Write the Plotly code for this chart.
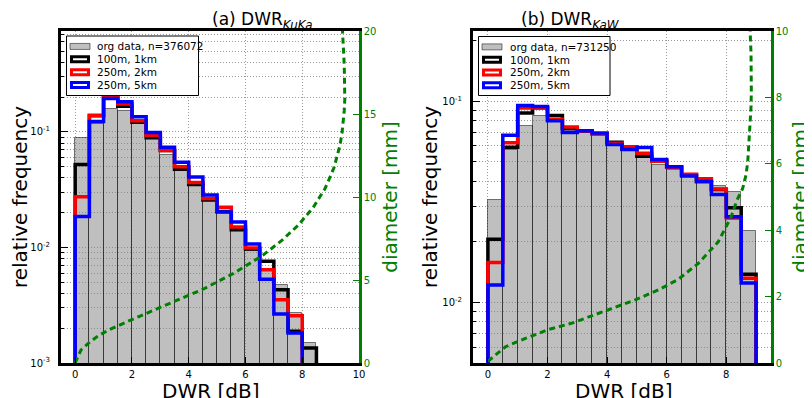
import plotly.graph_objects as go

FONT = "DejaVu Sans"
GREEN = "#008000"

# ---------------- panel (a): DWR KuKa ----------------
EDGES_A = [0.0, 0.5, 1.0, 1.5, 2.0, 2.5, 3.0, 3.5, 4.0, 4.5, 5.0, 5.5, 6.0, 6.5, 7.0, 7.5, 8.0, 8.5]
ORG_A = [0.089, 0.116, 0.158, 0.153, 0.119, 0.086, 0.0625, 0.0467, 0.034, 0.025, 0.0205,
         0.0139, 0.0094, 0.0063, 0.0047, 0.0027, 0.00148]
K100_A = [0.0522, 0.138, 0.200, 0.167, 0.121, 0.089, 0.069, 0.0474, 0.035, 0.0258, 0.0205,
          0.0142, 0.0097, 0.0076, 0.0043, 0.00188, 0.00135]
K250_2_A = [0.0275, 0.139, 0.207, 0.174, 0.125, 0.0935, 0.069, 0.050, 0.0364, 0.0265, 0.0223,
            0.015, 0.0099, 0.0064, 0.00353, 0.00257]
K250_5_A = [0.0185, 0.123, 0.194, 0.182, 0.135, 0.099, 0.0737, 0.0547, 0.0407, 0.0285, 0.0203,
            0.0166, 0.0107, 0.0053, 0.00266, 0.00182]
CURVE_DWR_A = [0, 0.2, 0.49, 0.82, 1.18, 1.55, 1.91, 2.29, 2.64, 3.03, 3.42, 3.79, 4.15, 4.52,
               5.58, 6.27, 6.62, 7.27, 7.86, 8.39, 8.8, 8.97, 9.12, 9.23, 9.33, 9.4, 9.45, 9.48,
               9.5, 9.5, 9.48, 9.46, 9.43, 9.41]
CURVE_D_A = [0, 0.78, 1.22, 1.65, 1.99, 2.29, 2.55, 2.83, 3.09, 3.35, 3.63, 3.9, 4.2, 4.46,
             5.4, 6.1, 6.5, 7.37, 8.3, 9.38, 10.5, 11.16, 11.77, 12.47, 13.13, 13.84, 14.5, 15.2,
             15.9, 17.2, 17.95, 18.65, 19.35, 20.3]
N_A = 376072

# ---------------- panel (b): DWR KaW ----------------
EDGES_B = [0.0, 0.5, 1.0, 1.5, 2.0, 2.5, 3.0, 3.5, 4.0, 4.5, 5.0, 5.5, 6.0, 6.5, 7.0, 7.5, 8.0, 8.5, 9.0]
ORG_B = [0.0322, 0.0572, 0.0758, 0.0849, 0.079, 0.0697, 0.0705, 0.0684, 0.0598, 0.0565, 0.0533,
         0.0485, 0.0458, 0.0425, 0.0391, 0.0379, 0.0354, 0.0226]
K100_B = [0.0206, 0.0591, 0.0876, 0.093, 0.085, 0.073, 0.071, 0.069, 0.0627, 0.058, 0.0533,
          0.0505, 0.047, 0.043, 0.040, 0.0365, 0.0296, 0.0138]
K250_2_B = [0.0158, 0.0622, 0.0927, 0.0927, 0.0815, 0.0745, 0.0712, 0.069, 0.062, 0.0594, 0.0552,
            0.0504, 0.047, 0.0434, 0.0412, 0.0367, 0.0263, 0.0132]
K250_5_B = [0.0122, 0.0678, 0.0953, 0.0944, 0.0800, 0.0700, 0.0715, 0.0697, 0.0610, 0.0576, 0.059,
            0.0514, 0.0473, 0.0425, 0.0399, 0.0344, 0.0267, 0.0125]
CURVE_DWR_B = [0, 0.59, 1.26, 2.04, 2.82, 3.6, 4.27, 4.94, 5.72, 6.39, 7.06, 7.73, 8.16, 8.36,
               8.55, 8.66, 8.72, 8.75, 8.78, 8.81, 8.83, 8.84, 8.84, 8.84, 8.83, 8.81, 8.8]
CURVE_D_B = [0.05, 0.49, 0.74, 1.01, 1.2, 1.45, 1.68, 1.9, 2.2, 2.52, 3.0, 3.65, 4.4, 4.91,
             5.26, 5.66, 6.06, 6.47, 6.87, 7.32, 7.72, 8.17, 8.57, 8.98, 9.33, 9.73, 10.2]
N_B = 731250

SERIES_NAMES = ["100m, 1km", "250m, 2km", "250m, 5km"]
SERIES_COLORS = ["black", "red", "blue"]
ORG_FILL = "rgba(128,128,128,0.5)"
ORG_EDGE = "rgba(0,0,0,0.5)"

YTICK_VALS = [0.001, 0.01, 0.1]
YTICK_TEXT = ["10<sup>-3</sup>", "10<sup>-2</sup>", "10<sup>-1</sup>"]
YRANGE_A = [-3.0, -0.127]
YRANGE_B = [-2.301, -0.65]
DRANGE_A = [0, 20]
DRANGE_B = [0, 10]
XLABEL = "DWR [dB]"
YLABEL = "relative frequency"
DLABEL = "diameter [mm]"

# page geometry: the html body has an 8px default margin
OFF = 8
W, H = 812 - OFF, 398 - OFF


def px(x):
    return (x - OFF) / W


def py(y):
    return 1 - (y - OFF) / H


fig = go.Figure()


def step_xy(edges, vals, base):
    xs = [edges[0]] + list(edges[:len(vals) + 1]) + [edges[len(vals)]]
    ys = [base] + list(vals) + [vals[-1]] + [base]
    return xs, ys


def add_panel(edges, org, series, curve_x, curve_y, xa, ya, ya2, base):
    fig.add_trace(go.Bar(
        x=edges[:len(org)], y=org, width=0.5, offset=0,
        marker=dict(color=ORG_FILL, line=dict(color=ORG_EDGE, width=1)),
        showlegend=False, xaxis=xa, yaxis=ya))
    for vals, nm, col in zip(series, SERIES_NAMES, SERIES_COLORS):
        xs, ys = step_xy(edges, vals, base)
        fig.add_trace(go.Scatter(x=xs, y=ys, mode="lines", name=nm,
                                 line=dict(color=col, width=3.5, shape="hv"),
                                 showlegend=False, xaxis=xa, yaxis=ya, hoverinfo="skip"))
    fig.add_trace(go.Scatter(x=curve_x, y=curve_y, mode="lines",
                             line=dict(color=GREEN, width=3, dash="6px,4px"),
                             showlegend=False, xaxis=xa, yaxis=ya2, hoverinfo="skip"))


add_panel(EDGES_A, ORG_A, [K100_A, K250_2_A, K250_5_A], CURVE_DWR_A, CURVE_D_A, "x", "y", "y2", 1e-4)
add_panel(EDGES_B, ORG_B, [K100_B, K250_2_B, K250_5_B], CURVE_DWR_B, CURVE_D_B, "x2", "y3", "y4", 1e-3)

YDOM = [py(363), py(31)]
GRIDCOL = "#9a9a9a"
GRIDDASH = "1px,2px"
grid = dict(showgrid=True, gridcolor=GRIDCOL, griddash=GRIDDASH, gridwidth=1)


def xax(domain, anchor, rng, dtick):
    return dict(domain=domain, anchor=anchor, range=rng, dtick=dtick, tick0=0, automargin=False,
                showline=True, linecolor="black", linewidth=3, mirror=True,
                ticks="inside", ticklen=6, tickcolor="black", zeroline=False,
                tickfont=dict(size=10, color="black", family=FONT),
                **grid)


def yax(anchor, rng):
    return dict(domain=YDOM, anchor=anchor, type="log", range=rng, automargin=False,
                tickvals=YTICK_VALS, ticktext=YTICK_TEXT,
                showline=True, linecolor="black", linewidth=3, mirror=False,
                ticks="inside", ticklen=7, tickcolor="black", ticklabelstandoff=6,
                tickfont=dict(size=10, color="black", family=FONT),
                minor=dict(dtick="D1", ticks="inside", ticklen=3, tickcolor="black", showgrid=True,
                           gridcolor=GRIDCOL, griddash=GRIDDASH, gridwidth=1),
                title=dict(text=YLABEL, font=dict(size=20, family=FONT, color="black"),
                           standoff=0),
                **grid)


def dax(overlay, anchor, rng, dtick):
    return dict(domain=YDOM, overlaying=overlay, anchor=anchor, side="right", range=rng,
                dtick=dtick, tick0=0, showgrid=False, zeroline=False, automargin=False,
                showline=True, linecolor=GREEN, linewidth=2.5,
                ticks="inside", ticklen=6, tickcolor=GREEN,
                tickfont=dict(size=10, color=GREEN, family=FONT),
                title=dict(text=DLABEL, font=dict(size=20, family=FONT, color=GREEN),
                           standoff=8))


# ---- matplotlib-style legend boxes (shapes + text) ----
shapes = []
annotations = []


def add_legend(x0, y0, x1, y1, sym_x, text_x, n):
    shapes.append(dict(type="rect", xref="paper", yref="paper", x0=px(x0), x1=px(x1),
                       y0=py(y1), y1=py(y0), fillcolor="white", line=dict(color="black", width=1),
                       layer="above"))
    labels = [f"org data, n={n}"] + SERIES_NAMES
    row_h = (y1 - y0 - 8) / 4
    for i, lab in enumerate(labels):
        cy = y0 + 4 + row_h * (i + 0.5)
        if i == 0:
            shapes.append(dict(type="rect", xref="paper", yref="paper", x0=px(sym_x), x1=px(sym_x + 20),
                               y0=py(cy + 3), y1=py(cy - 3), fillcolor=ORG_FILL,
                               line=dict(color=ORG_EDGE, width=1), layer="above"))
        else:
            col = SERIES_COLORS[i - 1]
            shapes.append(dict(type="rect", xref="paper", yref="paper", x0=px(sym_x + 1.5),
                               x1=px(sym_x + 18.5), y0=py(cy + 2.5), y1=py(cy - 2.5),
                               fillcolor="white", line=dict(color=col, width=3), layer="above"))
        annotations.append(dict(text=lab, x=px(text_x), y=py(cy), xref="paper", yref="paper",
                                xanchor="left", yanchor="middle", showarrow=False,
                                font=dict(size=10.5, family=FONT, color="black")))


add_legend(66.5, 36, 198.5, 95.5, 70, 95, N_A)
add_legend(478.5, 36.5, 610, 95.5, 482, 508, N_B)

annotations += [
    dict(text="(a) DWR<sub><i>KuKa</i></sub>", x=px(210), y=py(20), xref="paper", yref="paper",
         showarrow=False, font=dict(size=17, family=FONT, color="black"), yanchor="middle"),
    dict(text="(b) DWR<sub><i>KaW</i></sub>", x=px(622), y=py(20), xref="paper", yref="paper",
         showarrow=False, font=dict(size=17, family=FONT, color="black"), yanchor="middle"),
    # x-axis titles (placed like the reference, partly below the page edge)
    dict(text=XLABEL, x=px(210), y=py(391), xref="paper", yref="paper", showarrow=False,
         font=dict(size=20, family=FONT, color="black"), yanchor="middle", xanchor="center"),
    dict(text=XLABEL, x=px(623), y=py(391), xref="paper", yref="paper", showarrow=False,
         font=dict(size=20, family=FONT, color="black"), yanchor="middle", xanchor="center"),
]

fig.update_layout(
    width=W, height=H, margin=dict(l=0, r=0, t=0, b=0),
    paper_bgcolor="white", plot_bgcolor="white",
    font=dict(family=FONT, color="black"),
    barmode="overlay", bargap=0,
    xaxis=xax([px(61), px(359)], "y", [-0.5, 10], 2),
    yaxis=yax("x", YRANGE_A),
    yaxis2=dax("y", "x", DRANGE_A, 5),
    xaxis2=xax([px(473), px(771)], "y3", [-0.5, 9.5], 2),
    yaxis3=yax("x2", YRANGE_B),
    yaxis4=dax("y3", "x2", DRANGE_B, 2),
    shapes=shapes,
    annotations=annotations,
    showlegend=False,
)

fig.write_html("out.html")
